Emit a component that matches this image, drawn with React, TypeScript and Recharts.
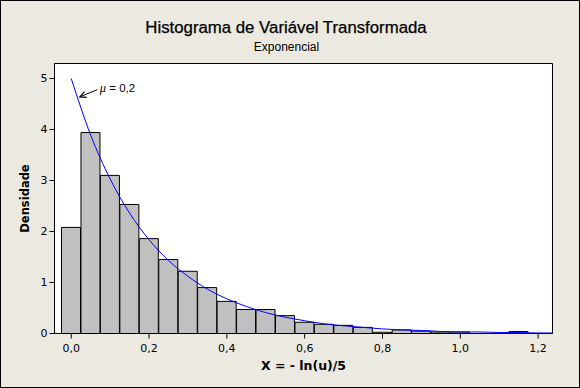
import React from "react";
import {
  ComposedChart,
  Bar,
  Line,
  XAxis,
  YAxis,
  CartesianGrid,
  ReferenceArea,
  ReferenceLine,
} from "recharts";

// bin centres (width 0.05) and the observed densities
const binCenters = [0, 0.05, 0.1, 0.15, 0.2, 0.25, 0.3, 0.35, 0.4, 0.45, 0.5, 0.55, 0.6, 0.65, 0.7, 0.75, 0.8, 0.85, 0.9, 0.95, 1.0, 1.05, 1.1, 1.15, 1.2, 1.25];
const densities = [2.08, 3.94, 3.1, 2.53, 1.86, 1.45, 1.22, 0.9, 0.63, 0.47, 0.47, 0.35, 0.22, 0.18, 0.16, 0.12, 0.025, 0.07, 0.045, 0.03, 0.03, 0, 0, 0.04, 0, 0];
// fitted exponential density
const fittedCurve = [5.0, 3.89, 3.03, 2.36, 1.84, 1.43, 1.12, 0.87, 0.68, 0.53, 0.41, 0.32, 0.25, 0.19, 0.15, 0.12, 0.09, 0.07, 0.06, 0.04, 0.03, 0.03, 0.02, 0.02, 0.01, 0.01];

const xTicks = [0, 0.2, 0.4, 0.6, 0.8, 1.0, 1.2];
const yTicks = [0, 1, 2, 3, 4, 5];
const xDomain: [number, number] = [-0.043, 1.237];
const yDomain: [number, number] = [0, 5.294];

// annotation "mu = 0,2": arrow tail and tip
const arrowTail = { x: 0.067, y: 4.78 };
const arrowTip = { x: 0.022, y: 4.64 };

const data = binCenters.map((x, i) => ({ x, density: densities[i], curve: fittedCurve[i] }));

const comma = (v: number) => v.toFixed(1).replace(".", ",");

const ArrowShape = (props: any) => {
  const { x1, y1, x2, y2 } = props;
  if (x1 == null || x2 == null) return null;
  const a = Math.atan2(y2 - y1, x2 - x1);
  const len = 7;
  const spread = 0.45;
  const p1 = [x2 - len * Math.cos(a - spread), y2 - len * Math.sin(a - spread)];
  const p2 = [x2 - len * Math.cos(a + spread), y2 - len * Math.sin(a + spread)];
  return (
    <g>
      <line x1={x1} y1={y1} x2={x2} y2={y2} stroke="#000" strokeWidth={1} />
      <polyline points={`${p1[0]},${p1[1]} ${x2},${y2} ${p2[0]},${p2[1]}`} fill="none" stroke="#000" strokeWidth={1.2} />
      <text x={x1 + 2.5} y={y1 + 2.6} fontFamily="Liberation Sans" fontSize={11.5} fill="#000">
        <tspan fontStyle="italic" fontFamily="Liberation Serif" fontSize={12.5}>μ</tspan>
        <tspan> = 0,2</tspan>
      </text>
    </g>
  );
};

const XLabel = (props: any) => {
  const vb = props.viewBox;
  return (
    <text x={vb.x + vb.width / 2} y={vb.y + 36} textAnchor="middle" fontFamily="DejaVu Sans" fontWeight="bold" fontSize={12.5} fill="#000">
      X = - ln(u)/5
    </text>
  );
};

const YLabel = (props: any) => {
  const vb = props.viewBox;
  const cx = vb.x + vb.width / 2 - 2.5;
  const cy = vb.y + vb.height / 2;
  return (
    <text x={cx} y={cy} transform={`rotate(-90 ${cx} ${cy})`} textAnchor="middle" dominantBaseline="central" fontFamily="DejaVu Sans" fontWeight="bold" fontSize={11.5} fill="#000">
      Densidade
    </text>
  );
};

export default function App() {
  const tickStyle = { fontSize: 11, fill: "#000", fontFamily: "DejaVu Sans" };
  return (
    <div style={{ position: "absolute", left: 0, top: 0, width: 580, height: 388, background: "#ECE9E0", fontFamily: "Liberation Sans" }}>
      <div style={{ position: "absolute", left: 0, top: 20.1, width: 572, textAlign: "center", fontSize: 16.8, lineHeight: "16.8px", color: "#000", WebkitTextStroke: "0.25px #000" }}>
        Histograma de Variável Transformada
      </div>
      <div style={{ position: "absolute", left: 0, top: 40.8, width: 573, textAlign: "center", fontSize: 12, lineHeight: "12px", color: "#000" }}>
        Exponencial
      </div>
      <div style={{ position: "absolute", left: 0, top: 0 }}>
        <ComposedChart width={580} height={388} data={data} margin={{ top: 63.5, right: 27.5, bottom: 0, left: 0.5 }} barCategoryGap={0} barGap={0}>
          <CartesianGrid horizontal={false} vertical={false} fill="#ffffff" />
          <XAxis
            dataKey="x"
            type="number"
            domain={xDomain}
            allowDataOverflow
            ticks={xTicks}
            tickFormatter={comma}
            interval={0}
            height={54.5}
            tickSize={5}
            tickMargin={6}
            tick={tickStyle}
            stroke="#000"
            label={<XLabel />}
          />
          <YAxis
            type="number"
            domain={yDomain}
            allowDataOverflow
            ticks={yTicks}
            interval={0}
            width={54}
            tickSize={5}
            tickMargin={2}
            tick={tickStyle}
            stroke="#000"
            label={<YLabel />}
          />
          <Bar dataKey="density" fill="#C0C0C0" stroke="#000" strokeWidth={1} isAnimationActive={false} />
          <Line dataKey="curve" type="monotone" stroke="#0000FF" strokeWidth={1} dot={false} activeDot={false} isAnimationActive={false} />
          <ReferenceArea x1={xDomain[0]} x2={xDomain[1]} y1={yDomain[0]} y2={yDomain[1]} fill="none" stroke="#000" strokeWidth={1} />
          <ReferenceLine segment={[arrowTail, arrowTip]} shape={ArrowShape} />
        </ComposedChart>
      </div>
      <div style={{ position: "absolute", left: 0, top: 0, width: 580, height: 388, boxSizing: "border-box", border: "1px solid #000", pointerEvents: "none" }} />
    </div>
  );
}
